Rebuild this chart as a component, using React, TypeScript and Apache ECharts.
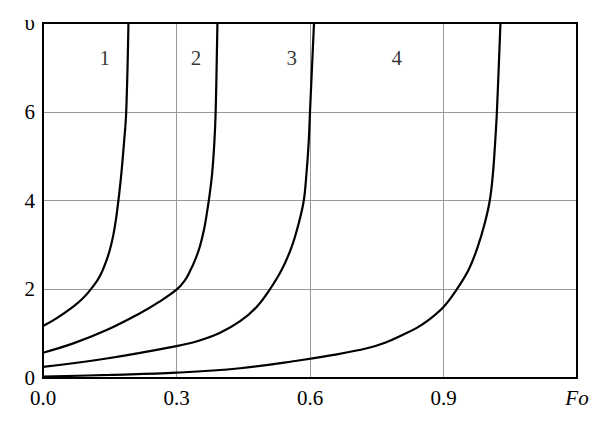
import React, { useEffect, useRef } from "react";
import * as echarts from "echarts";

const xTicks = ["0.0", "0.3", "0.6", "0.9", "Fo"];
const yTicks = ["0", "2", "4", "6", "υ"];

const curve1: [number, number][] = [
  [0, 1.17], [0.031, 1.35], [0.068, 1.61], [0.088, 1.78], [0.106, 1.98], [0.128, 2.3], [0.147, 2.78],
  [0.158, 3.22], [0.166, 3.72], [0.175, 4.5], [0.182, 5.3], [0.187, 6.0], [0.192, 8.0],
];
const curve2: [number, number][] = [
  [0, 0.57], [0.068, 0.78], [0.143, 1.08], [0.218, 1.46], [0.26, 1.71], [0.3, 1.99],
  [0.318, 2.19], [0.331, 2.42], [0.343, 2.69], [0.353, 2.98], [0.362, 3.35], [0.368, 3.7], [0.374, 4.1],
  [0.38, 4.6], [0.385, 5.3], [0.388, 6.0], [0.392, 8.0],
];
const curve3: [number, number][] = [
  [0, 0.25], [0.143, 0.44], [0.3, 0.72], [0.35, 0.84], [0.398, 1.02], [0.443, 1.28], [0.48, 1.6],
  [0.51, 2.0], [0.537, 2.45], [0.559, 2.96], [0.575, 3.5], [0.586, 4.0], [0.592, 4.6], [0.597, 5.3],
  [0.6, 6.0], [0.609, 8.0],
];
const curve4: [number, number][] = [
  [0, 0.03], [0.15, 0.07], [0.3, 0.12], [0.443, 0.22], [0.578, 0.4], [0.653, 0.52], [0.728, 0.67],
  [0.77, 0.8], [0.81, 0.98], [0.84, 1.13], [0.863, 1.28], [0.9, 1.6], [0.93, 2.0], [0.957, 2.45],
  [0.977, 2.96], [0.993, 3.5], [1.004, 4.0], [1.011, 4.6], [1.016, 5.3], [1.02, 6.0], [1.028, 8.0],
];
const curveLabels: [number, number, string][] = [
  [0.139, 7.22, "1"], [0.344, 7.22, "2"], [0.559, 7.22, "3"], [0.795, 7.22, "4"],
];

const FONT = "Liberation Serif";

export default function App() {
  const ref = useRef<HTMLDivElement>(null);
  useEffect(() => {
    if (!ref.current) return;
    const chart = echarts.init(ref.current, undefined, { renderer: "svg" });
    const lineSeries = (data: [number, number][]) => ({
      type: "line",
      data,
      showSymbol: false,
      smooth: 0.4,
      smoothConstraint: false,
      lineStyle: { color: "#000", width: 2.2 },
      z: 3,
    });
    chart.setOption({
      animation: false,
      backgroundColor: "#fff",
      textStyle: { fontFamily: FONT, color: "#000" },
      grid: { left: 43, right: 23, top: 23, bottom: 57, show: true, borderColor: "#000", borderWidth: 2, z: 5 },
      xAxis: {
        type: "value",
        min: 0,
        max: 1.2,
        interval: 0.3,
        axisLine: { show: true, lineStyle: { color: "#000", width: 2 } },
        axisTick: { show: false },
        splitLine: { show: true, showMinLine: false, showMaxLine: false, lineStyle: { color: "#999", width: 1 } },
        axisLabel: {
          margin: 9,
          fontFamily: FONT,
          fontSize: 21,
          color: "#000",
          formatter: (v: number) => {
            const i = Math.round(v / 0.3);
            return i === 4 ? "{it|" + xTicks[i] + "}" : "{n|" + xTicks[i] + "}";
          },
          rich: {
            it: { fontStyle: "italic", fontFamily: FONT, fontSize: 21, color: "#000" },
            n: { fontFamily: FONT, fontSize: 21, color: "#000" },
          },
        },
      },
      yAxis: {
        type: "value",
        min: 0,
        max: 8,
        interval: 2,
        axisLine: { show: true, lineStyle: { color: "#000", width: 2 } },
        axisTick: { show: false },
        splitLine: { show: true, showMinLine: false, showMaxLine: false, lineStyle: { color: "#999", width: 1 } },
        axisLabel: {
          margin: 8,
          fontFamily: FONT,
          fontSize: 21,
          color: "#000",
          formatter: (v: number) => "{n|" + yTicks[Math.round(v / 2)] + "}",
          rich: { n: { fontFamily: FONT, fontSize: 21, color: "#000" } },
        },
      },
      series: [
        lineSeries(curve1),
        lineSeries(curve2),
        lineSeries(curve3),
        lineSeries(curve4),
        {
          type: "scatter",
          data: curveLabels,
          symbolSize: 0,
          label: {
            show: true,
            position: "inside",
            formatter: (p: any) => p.data[2],
            fontFamily: FONT,
            fontSize: 21,
            color: "#000",
          },
          z: 4,
        },
      ],
    });
    return () => chart.dispose();
  }, []);
  return <div ref={ref} style={{ width: 600, height: 435, position: "absolute", left: 0, top: 0 }} />;
}
